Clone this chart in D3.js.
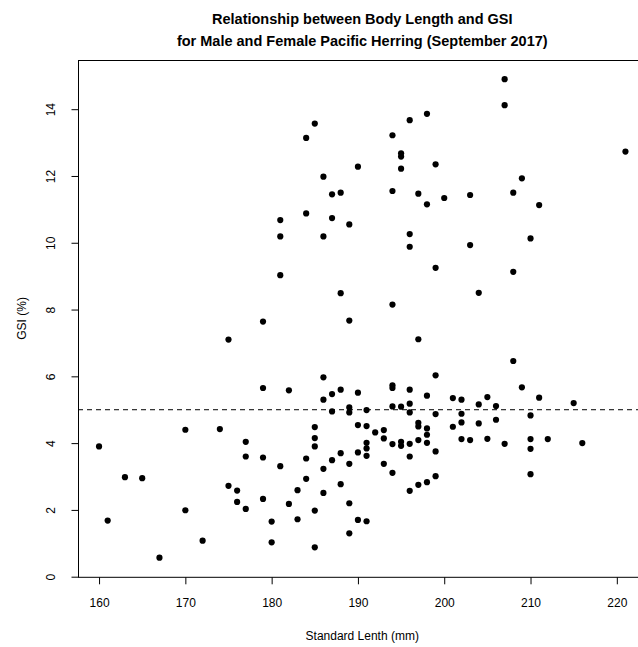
<!DOCTYPE html>
<html>
<head>
<meta charset="utf-8">
<script src="https://cdn.jsdelivr.net/npm/d3@7"></script>
<style>
  body { margin: 0; background: #fff; }
  svg { display: block; font-family: "Liberation Sans", Arial, sans-serif; }
</style>
</head>
<body>
<svg id="chart" width="638" height="647"></svg>
<script>
// standard length (mm) and GSI (%) for each fish
var lengths = [160,161,163,165,167,170,170,172,174,175,175,176,176,177,177,177,
  179,179,179,179,180,180,181,181,181,181,182,182,183,183,184,184,184,184,
  185,185,185,185,185,185,186,186,186,186,186,186,187,187,187,187,187,
  188,188,188,188,188,189,189,189,189,189,189,189,190,190,190,190,190,
  191,191,191,191,191,191,192,193,193,193,
  194,194,194,194,194,194,194,194,195,195,195,195,195,195,
  196,196,196,196,196,196,196,196,196,197,197,197,197,197,197,
  198,198,198,198,198,198,198,199,199,199,199,199,199,200,201,201,
  202,202,202,202,203,203,203,204,204,204,205,205,206,206,207,207,207,
  208,208,208,209,209,210,210,210,210,210,211,211,212,215,216,221];
var gsi = [3.9,1.68,2.98,2.95,0.57,4.40,1.99,1.08,4.42,7.10,2.72,2.58,2.24,4.04,3.60,2.03,
  7.64,5.65,3.57,2.33,1.65,1.03,10.68,10.19,9.03,3.31,5.58,2.18,2.59,1.72,13.14,10.88,3.54,2.93,
  13.57,4.48,4.15,3.90,1.98,0.88,11.98,10.19,5.97,5.30,3.23,2.51,11.45,10.74,5.47,4.95,3.49,
  11.50,8.49,5.60,3.70,2.77,10.55,7.67,5.07,4.92,3.38,2.20,1.30,12.28,5.51,4.54,3.72,1.70,
  4.99,4.51,4.01,3.84,3.62,1.66,4.32,4.39,4.14,3.38,
  13.22,11.55,8.15,5.73,5.65,5.10,3.97,3.11,12.68,12.58,12.22,5.09,4.04,3.92,
  13.67,10.26,9.88,5.60,5.18,4.92,3.98,3.60,2.57,11.47,7.11,4.61,4.50,4.09,2.75,
  13.86,11.15,5.42,4.44,4.25,4.01,2.83,12.35,9.25,6.03,4.87,3.75,3.01,11.34,5.35,4.49,
  5.30,4.88,4.62,4.12,11.43,9.93,4.09,8.50,5.16,4.59,5.38,4.13,5.11,4.70,14.90,14.12,3.98,
  11.50,9.13,6.46,11.93,5.67,10.13,4.83,4.12,3.83,3.07,11.13,5.36,4.12,5.20,4.00,12.73];

var xTicks = [160,170,180,190,200,210,220];
var yTicks = [0,2,4,6,8,10,12,14];
var cutoff = 5;

var titleLines = ["Relationship between Body Length and GSI",
                  "for Male and Female Pacific Herring (September 2017)"];
var xLabel = "Standard Lenth (mm)";
var yLabel = "GSI (%)";

var svg = d3.select("#chart");

var plotLeft = 78, plotRight = 646.5, plotTop = 60, plotBottom = 576.8;

// R style range: data extent padded by 4%
var xMin = d3.min(lengths), xMax = d3.max(lengths);
var yMin = d3.min(gsi), yMax = d3.max(gsi);
var xPad = (xMax - xMin) * 0.04, yPad = (yMax - yMin) * 0.04;

var xScale = d3.scaleLinear().domain([xMin - xPad, xMax + xPad]).range([plotLeft, plotRight]);
var yScale = d3.scaleLinear().domain([yMin - yPad, yMax + yPad]).range([plotBottom, plotTop]);

// box
svg.append("rect")
  .attr("x", plotLeft + 0.5)
  .attr("y", plotTop + 0.5)
  .attr("width", plotRight - plotLeft)
  .attr("height", plotBottom - plotTop)
  .attr("fill", "none")
  .attr("stroke", "#000")
  .attr("stroke-width", 1);

// axes
var xAxis = svg.append("g")
  .attr("transform", "translate(0," + (plotBottom + 0.5) + ")")
  .call(d3.axisBottom(xScale).tickValues(xTicks).tickSize(7).tickPadding(14).tickFormat(d3.format("d")));

var yAxis = svg.append("g")
  .attr("transform", "translate(" + (plotLeft + 0.5) + ",0)")
  .call(d3.axisLeft(yScale).tickValues(yTicks).tickSize(7).tickPadding(0).tickFormat(d3.format("d")));

svg.selectAll(".domain").remove();
svg.selectAll(".tick line").attr("stroke", "#000");
svg.selectAll(".tick text")
  .attr("fill", "#000")
  .style("font-size", "12px")
  .style("font-family", "Liberation Sans, Arial, sans-serif");

// rotated y tick labels like R
yAxis.selectAll(".tick text")
  .attr("x", null)
  .attr("text-anchor", "middle")
  .attr("transform", "translate(-28,0) rotate(-90)")
  .attr("dy", "0.35em");

// cutoff line
svg.append("line")
  .attr("x1", plotLeft)
  .attr("x2", plotRight)
  .attr("y1", yScale(cutoff))
  .attr("y2", yScale(cutoff))
  .attr("stroke", "#000")
  .attr("stroke-width", 1)
  .attr("stroke-dasharray", "5,4");

// points
svg.append("g").selectAll("circle")
  .data(lengths)
  .join("circle")
  .attr("cx", function(d) { return xScale(d); })
  .attr("cy", function(d, i) { return yScale(gsi[i]); })
  .attr("r", 3.1)
  .attr("fill", "#000");

// titles
var midX = (plotLeft + plotRight) / 2;
svg.append("g").selectAll("text")
  .data(titleLines)
  .join("text")
  .attr("x", midX)
  .attr("y", function(d, i) { return 24 + i * 22; })
  .attr("text-anchor", "middle")
  .style("font-weight", "bold")
  .style("font-size", "14.5px")
  .text(function(d) { return d; });

svg.append("text")
  .attr("x", midX)
  .attr("y", 640)
  .attr("text-anchor", "middle")
  .style("font-size", "12px")
  .text(xLabel);

svg.append("text")
  .attr("transform", "translate(26," + ((plotTop + plotBottom) / 2) + ") rotate(-90)")
  .attr("text-anchor", "middle")
  .style("font-size", "12px")
  .text(yLabel);
</script>
</body>
</html>
